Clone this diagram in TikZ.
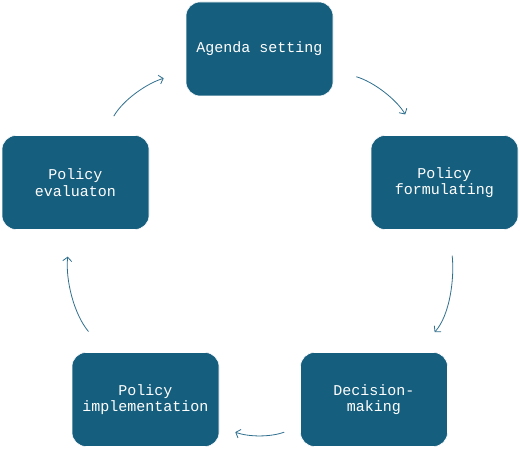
\documentclass[tikz,border=0pt]{standalone}
\usepackage{xcolor}
\usepackage{fontspec}
\setmonofont{Liberation Mono}
\usetikzlibrary{arrows.meta}
\definecolor{stageblue}{HTML}{165E7D}
\definecolor{arcblue}{HTML}{2F6F8E}

\begin{document}
\begin{tikzpicture}[x=1pt, y=1pt,
    stage/.style={fill=stageblue, draw=white, line width=0.6pt, rounded corners=14pt,
        minimum width=147pt, minimum height=94pt, align=center, text=white,
        font=\ttfamily\fontsize{15}{16.5}\selectfont},
    cyclearrow/.style={draw=arcblue, line width=0.8pt, -{Straight Barb[length=4pt, width=9pt]}}]
    \useasboundingbox (0,0) rectangle (520,449);

    % Stages of the cycle
    \node[stage] (agenda) at (259.5,400) {Agenda setting};
    \node[stage] (formul) at (444.5,266.5) {Policy\\formulating};
    \node[stage] (decision) at (374,49.5) {Decision-\\making};
    \node[stage] (implem) at (145.5,49.5) {Policy\\implementation};
    \node[stage] (evaluat) at (75.5,266.5) {Policy\\evaluaton};

    % Arrows round the cycle
    \draw[cyclearrow, shorten <=24pt, shorten >=24pt] (agenda) to[out=-16, in=120] (formul);
    \draw[cyclearrow, shorten <=26pt, shorten >=27pt] (formul) to[out=-84, in=48] (decision);
    \draw[cyclearrow, shorten <=17pt, shorten >=17pt] (decision) to[out=200, in=-20] (implem);
    \draw[cyclearrow, shorten <=27pt, shorten >=27pt] (implem) to[out=130, in=-96] (evaluat);
    \draw[cyclearrow, shorten <=22pt, shorten >=23pt] (evaluat) to[out=60, in=197] (agenda);
\end{tikzpicture}
\end{document}
